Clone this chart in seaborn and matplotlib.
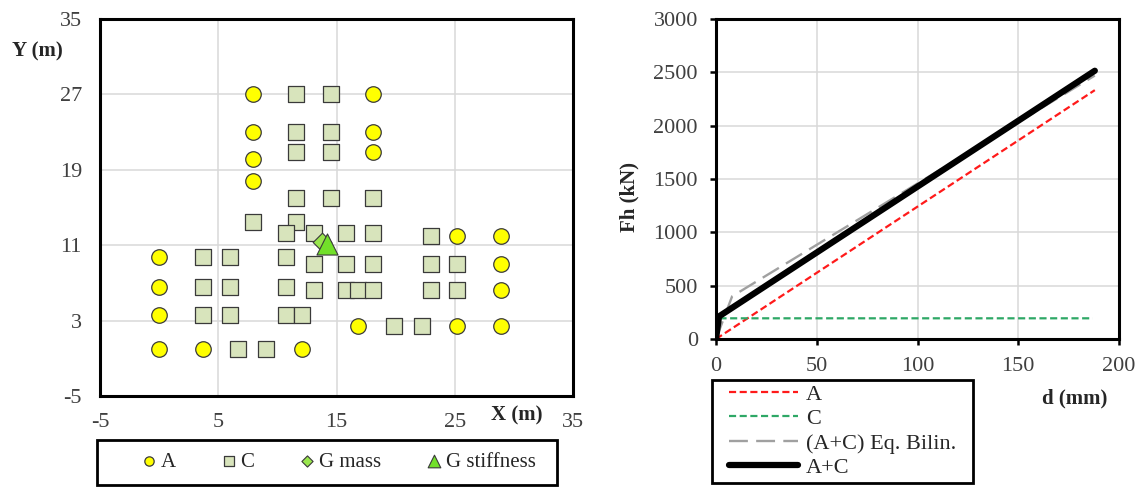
import numpy as np
import pandas as pd
import matplotlib
matplotlib.use("Agg")
import matplotlib.pyplot as plt
import seaborn as sns
from matplotlib.patches import Rectangle

# ---------------- data: plan positions ----------------
a_x = [7.9, 18.1, 7.9, 18.1, 18.1, 7.9, 7.9, 25.2, 28.9, 0.0,
       28.9, 0.0, 28.9, 0.0, 16.8, 25.2, 28.9, 0.0, 3.7, 12.1]
a_y = [27.0, 27.0, 23.0, 23.0, 20.9, 20.1, 17.8, 12.0, 12.0, 9.7,
       9.0, 6.6, 6.2, 3.6, 2.4, 2.4, 2.4, 0.0, 0.0, 0.0]

c_x = [11.6, 14.5, 11.6, 14.5, 11.6, 14.5, 11.6, 14.5, 18.1, 7.9,
       11.6, 10.7, 13.1, 15.8, 18.1, 23.0, 3.7, 6.0, 10.7, 13.1,
       15.8, 18.1, 23.0, 25.2, 3.7, 6.0, 10.7, 13.1, 15.8, 16.8,
       18.1, 23.0, 25.2, 3.7, 6.0, 10.7, 12.1, 19.9, 22.2, 6.7, 9.0]
c_y = [27.0, 27.0, 23.0, 23.0, 20.9, 20.9, 16.0, 16.0, 16.0, 13.5,
       13.5, 12.3, 12.3, 12.3, 12.3, 12.0, 9.7, 9.7, 9.7, 9.0,
       9.0, 9.0, 9.0, 9.0, 6.6, 6.6, 6.6, 6.2, 6.2, 6.2,
       6.2, 6.2, 6.2, 3.6, 3.6, 3.6, 3.6, 2.4, 2.4, 0.0, 0.0]

gmass_x = [13.8]
gmass_y = [11.3]
gstiff_x = [14.2]
gstiff_y = [11.1]

x_ticks = [-5, 5, 15, 25, 35]
y_ticks = [-5, 3, 11, 19, 27, 35]

# ---------------- data: force-displacement ----------------
d_A = [0, 188]
f_A = [0, 2333]
d_C = [0, 1.5, 187]
f_C = [0, 194, 194]
d_bil = [0, 8, 188]
f_bil = [0, 400, 2470]
d_AC = [0, 1.5, 188]
f_AC = [0, 212, 2515]

d_ticks = [0, 50, 100, 150, 200]
f_ticks = [0, 500, 1000, 1500, 2000, 2500, 3000]

# ---------------- style ----------------
sns.set_theme(style="white")
plt.rcParams["font.family"] = ["Liberation Serif", "DejaVu Serif"]
plt.rcParams["axes.unicode_minus"] = False

W, H = 1139, 487
fig = plt.figure(figsize=(W / 100, H / 100), dpi=100)

def fx(px):
    return px / W

def fy(py):
    return 1 - py / H

tick_color = "#404040"
grid_color = "#d9d9d9"

# ---------------- left: plan ----------------
ax1 = fig.add_axes([fx(100), fy(396), fx(573) - fx(100), fy(19) - fy(396)])
df_a = pd.DataFrame({"x": a_x, "y": a_y})
df_c = pd.DataFrame({"x": c_x, "y": c_y})
sns.scatterplot(data=df_a, x="x", y="y", ax=ax1, marker="o", s=125,
                color="#ffff00", edgecolor="#3a3a3a", linewidth=0.9,
                label="A", zorder=3)
sns.scatterplot(data=df_c, x="x", y="y", ax=ax1, marker="s", s=135,
                color="#d8e4bc", edgecolor="#3a3a3a", linewidth=0.9,
                label="C", zorder=3)
sns.scatterplot(x=gmass_x, y=gmass_y, ax=ax1, marker="D", s=90,
                color="#99e64d", edgecolor="#3a3a3a", linewidth=0.8,
                label="G mass", zorder=4)
sns.scatterplot(x=gstiff_x, y=gstiff_y, ax=ax1, marker="^", s=230,
                color="#72e02a", edgecolor="#3a3a3a", linewidth=0.8,
                label="G stiffness", zorder=5)
ax1.set_xlim(-5, 35)
ax1.set_ylim(-5, 35)
ax1.set_xticks(x_ticks)
ax1.set_yticks(y_ticks)
ax1.set_xlabel("")
ax1.set_ylabel("")
ax1.grid(True, color=grid_color, linewidth=1.1)
ax1.set_axisbelow(True)
ax1.tick_params(axis="both", length=0, labelsize=16, labelcolor=tick_color)
ax1.tick_params(axis="x", pad=12)
ax1.tick_params(axis="y", pad=13)
for sp in ax1.spines.values():
    sp.set_color("black")
    sp.set_linewidth(2.2)
h1, l1 = ax1.get_legend_handles_labels()
ax1.legend(h1, l1, ncol=4, loc="center left",
           bbox_to_anchor=(fx(143), fy(462)), bbox_transform=fig.transFigure,
           frameon=False, fontsize=15, markerscale=0.6, handlelength=0.6,
           handletextpad=0.25, columnspacing=2.25, borderpad=0, borderaxespad=0)
fig.add_artist(Rectangle((fx(97), fy(485)), fx(557) - fx(97), fy(440) - fy(485),
                         transform=fig.transFigure, fill=False,
                         edgecolor="black", linewidth=2.0))
fig.text(fx(517), fy(415), "X (m)", ha="center", va="center",
         fontsize=15, fontweight="bold")
fig.text(fx(37), fy(51), "Y (m)", ha="center", va="center",
         fontsize=15, fontweight="bold")

# ---------------- right: force-displacement ----------------
ax2 = fig.add_axes([fx(716), fy(339), fx(1119) - fx(716), fy(19) - fy(339)])
sns.lineplot(x=d_A, y=f_A, ax=ax2, color="#ff1a1a", linewidth=1.6,
             label="A", sort=False, estimator=None)
ax2.lines[-1].set_dashes((3.2, 1.6))
sns.lineplot(x=d_C, y=f_C, ax=ax2, color="#2ea866", linewidth=1.6,
             label="C", sort=False, estimator=None)
ax2.lines[-1].set_dashes((3.2, 1.6))
sns.lineplot(x=d_bil, y=f_bil, ax=ax2, color="#a0a0a0", linewidth=1.7,
             label="(A+C) Eq. Bilin.", sort=False, estimator=None)
ax2.lines[-1].set_dashes((8, 3.5))
sns.lineplot(x=d_AC, y=f_AC, ax=ax2, color="black", linewidth=4.5,
             label="A+C", sort=False, estimator=None)
ax2.lines[-1].set_solid_capstyle("round")
ax2.set_xlim(0, 200)
ax2.set_ylim(0, 3000)
ax2.set_xticks(d_ticks)
ax2.set_yticks(f_ticks)
ax2.set_xlabel("")
ax2.set_ylabel("")
ax2.grid(True, color=grid_color, linewidth=1.1)
ax2.set_axisbelow(True)
ax2.tick_params(axis="both", direction="out", length=4, width=1.8,
                color="black", labelsize=16, labelcolor=tick_color,
                bottom=True, left=True)
ax2.tick_params(axis="x", pad=9)
ax2.tick_params(axis="y", pad=9)
for sp in ax2.spines.values():
    sp.set_color("black")
    sp.set_linewidth(2.2)
h2, l2 = ax2.get_legend_handles_labels()
ax2.legend(h2, l2, loc="upper left",
           bbox_to_anchor=(fx(729), fy(384)), bbox_transform=fig.transFigure,
           frameon=False, fontsize=16, handlelength=3.1, handletextpad=0.35,
           labelspacing=0.18, borderpad=0, borderaxespad=0)
fig.add_artist(Rectangle((fx(712), fy(483)), fx(973) - fx(712), fy(380) - fy(483),
                         transform=fig.transFigure, fill=False,
                         edgecolor="black", linewidth=2.0))
fig.text(fx(1075), fy(398), "d (mm)", ha="center", va="center",
         fontsize=15, fontweight="bold")
fig.text(fx(629), fy(197), "Fh (kN)", ha="center", va="center",
         fontsize=15, fontweight="bold", rotation=90)

fig.savefig("out.png", dpi=100)
